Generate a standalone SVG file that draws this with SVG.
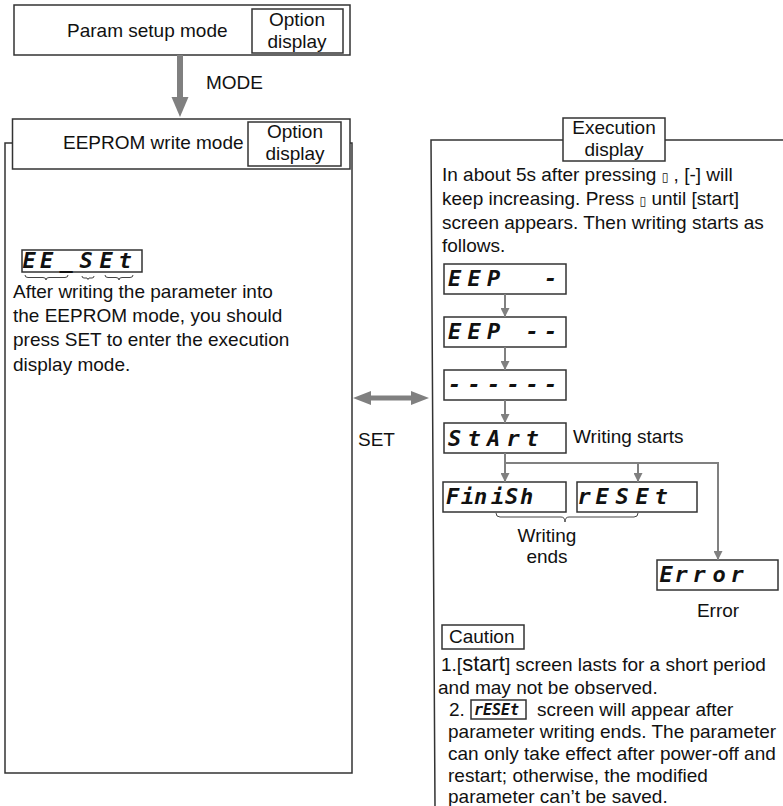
<svg xmlns="http://www.w3.org/2000/svg" width="783" height="806" viewBox="0 0 783 806">
<style>
.t{font-family:"Liberation Sans",Arial,sans-serif;font-size:19px;fill:#111}
.c{text-anchor:middle}
.seg{font-family:"DejaVu Sans Mono",monospace;font-style:oblique;font-weight:bold;font-size:22px;fill:#111}
.segs{font-family:"DejaVu Sans Mono",monospace;font-style:oblique;font-weight:bold;font-size:15px;fill:#111}
.sym{font-family:"DejaVu Sans",sans-serif;font-size:12px}
.box{fill:#fff;stroke:#333;stroke-width:1.5}
.frame{fill:none;stroke:#333;stroke-width:1.5}
.conn{stroke:#808080;stroke-width:2;fill:none}
.brace{stroke:#444;stroke-width:1;fill:none}
</style>
<defs>
<marker id="ah" markerUnits="userSpaceOnUse" markerWidth="9" markerHeight="9" refX="9" refY="4.5" orient="auto">
<path d="M0,0 L9,4.5 L0,9 z" fill="#808080"/>
</marker>
</defs>
<rect width="783" height="806" fill="#fff"/>

<g id="panel-left">
<path class="frame" d="M12,143 H5 V773 H352 V143 H350"/>
</g>
<g id="panel-right">
<path class="frame" d="M563,140 H431 L435,806 M665,140 H783"/>
</g>

<g id="param-setup">
<rect class="box" x="14" y="5" width="336" height="50"/>
<text class="t" x="67" y="37">Param setup mode</text>
<rect class="box" x="252" y="9" width="91" height="44"/>
<text class="t c" x="297" y="26">Option</text>
<text class="t c" x="297" y="48">display</text>
</g>

<g id="eeprom-write">
<rect class="box" x="12.5" y="119" width="337.5" height="50"/>
<text class="t" x="63" y="149">EEPROM write mode</text>
<rect class="box" x="248" y="122" width="93" height="44"/>
<text class="t c" x="295" y="138">Option</text>
<text class="t c" x="295" y="160">display</text>
</g>

<g id="ee-set">
<rect class="box" x="22" y="250" width="120" height="22"/>
<text class="seg" y="268"><tspan x="22.4">E</tspan><tspan x="40">E</tspan><tspan x="59.4">_</tspan><tspan x="79.4">S</tspan><tspan x="99.4">E</tspan><tspan x="118.4">t</tspan></text>
<path class="brace" d="M25,275 q0,2.5 3,2.5 h15 q3,0 3,2.5 q0,-2.5 3,-2.5 h16 q3,0 3,-2.5"/>
<path class="brace" d="M82,276 q0,2 2,2 h3 l1,1.5 l1,-1.5 h3 q2,0 2,-2"/>
<path class="brace" d="M105,275 q0,2.5 3,2.5 h8 q3,0 3,2.5 q0,-2.5 3,-2.5 h8 q3,0 3,-2.5"/>
<text class="t" x="13" y="298">After writing the parameter into</text>
<text class="t" x="13" y="322.2">the EEPROM mode, you should</text>
<text class="t" x="13" y="346.4">press SET to enter the execution</text>
<text class="t" x="13" y="370.6">display mode.</text>
</g>

<g id="exec-display">
<rect class="box" x="563" y="118" width="102" height="43"/>
<text class="t c" x="614" y="134">Execution</text>
<text class="t c" x="614" y="156">display</text>
<text class="t" x="442" y="181">In about 5s after pressing <tspan class="sym">▯</tspan> , [-] will</text>
<text class="t" x="442" y="204.5">keep increasing. Press <tspan class="sym">▯</tspan> until [start]</text>
<text class="t" x="442" y="228.5">screen appears. Then writing starts as</text>
<text class="t" x="442" y="252">follows.</text>
</g>

<g id="eep1">
<rect class="box" x="444" y="264" width="122" height="30"/>
<text class="seg" y="286"><tspan x="448">E</tspan><tspan x="467.5">E</tspan><tspan x="487">P</tspan><tspan x="544">-</tspan></text>
</g>
<g id="eep2">
<rect class="box" x="444" y="317" width="122" height="30"/>
<text class="seg" y="339"><tspan x="448">E</tspan><tspan x="467.5">E</tspan><tspan x="487">P</tspan><tspan x="525.5">-</tspan><tspan x="544">-</tspan></text>
</g>
<g id="dashes">
<rect class="box" x="444" y="370" width="122" height="30"/>
<text class="seg" y="392"><tspan x="448">-</tspan><tspan x="467.5">-</tspan><tspan x="487">-</tspan><tspan x="506.5">-</tspan><tspan x="525.5">-</tspan><tspan x="544">-</tspan></text>
</g>
<g id="start">
<rect class="box" x="444" y="423" width="122" height="30"/>
<text class="seg" y="446"><tspan x="448">S</tspan><tspan x="467.5">t</tspan><tspan x="487">A</tspan><tspan x="506.5">r</tspan><tspan x="525.5">t</tspan></text>
<text class="t" x="573" y="443">Writing starts</text>
</g>
<g id="finish">
<rect class="box" x="443" y="482" width="123" height="30"/>
<text class="seg" y="504"><tspan x="446">F</tspan><tspan x="461">i</tspan><tspan x="474">n</tspan><tspan x="491">i</tspan><tspan x="505">S</tspan><tspan x="520">h</tspan></text>
</g>
<g id="reset">
<rect class="box" x="577" y="482" width="120" height="30"/>
<text class="seg" y="504"><tspan x="577.4">r</tspan><tspan x="595.4">E</tspan><tspan x="615.4">S</tspan><tspan x="635.4">E</tspan><tspan x="654.4">t</tspan></text>
</g>
<g id="writing-ends">
<path class="brace" d="M496,513 q0,4 4,4 h61 q4,0 4,5 q0,-5 4,-5 h65 q4,0 4,-4"/>
<text class="t c" x="547" y="542">Writing</text>
<text class="t c" x="547" y="563">ends</text>
</g>
<g id="error">
<rect class="box" x="657" y="560" width="121" height="30"/>
<text class="seg" y="582"><tspan x="659.4">E</tspan><tspan x="674.4">r</tspan><tspan x="692.4">r</tspan><tspan x="712.4">o</tspan><tspan x="730.4">r</tspan></text>
<text class="t c" x="718" y="617">Error</text>
</g>

<g id="caution">
<rect class="box" x="442" y="625" width="82" height="24"/>
<text class="t" x="449" y="643">Caution</text>
<text class="t" x="441" y="671">1.[<tspan font-size="22">start</tspan>] screen lasts for a short period</text>
<text class="t" x="438" y="694">and may not be observed.</text>
<text class="t" x="449" y="716">2.</text>
<rect class="box" x="471" y="700" width="55" height="19" stroke-width="1.2"/>
<text class="segs" x="474" y="715">rESEt</text>
<text class="t" x="537" y="716">screen will appear after</text>
<text class="t" x="448" y="738">parameter writing ends. The parameter</text>
<text class="t" x="448" y="760">can only take effect after power-off and</text>
<text class="t" x="448" y="781.5">restart; otherwise, the modified</text>
<text class="t" x="448" y="802.5">parameter can’t be saved.</text>
</g>

<g id="connectors">
<rect x="177" y="55" width="6" height="43" fill="#808080"/>
<path d="M171.5,97 H188.5 L180,117 z" fill="#808080"/>
<text class="t" x="206" y="89">MODE</text>
<rect x="370" y="395.5" width="42" height="5" fill="#808080"/>
<path d="M353,398 L371,391 V405 z M429,398 L411,391 V405 z" fill="#808080"/>
<text class="t" x="358" y="446">SET</text>
<line class="conn" x1="505" y1="294" x2="505" y2="317" marker-end="url(#ah)"/>
<line class="conn" x1="505" y1="347" x2="505" y2="370" marker-end="url(#ah)"/>
<line class="conn" x1="505" y1="400" x2="505" y2="423" marker-end="url(#ah)"/>
<path class="conn" d="M505,453 V482" marker-end="url(#ah)"/>
<path class="conn" d="M505,463 H718 V560" marker-end="url(#ah)"/>
<path class="conn" d="M638,463 V482" marker-end="url(#ah)"/>
</g>
</svg>
